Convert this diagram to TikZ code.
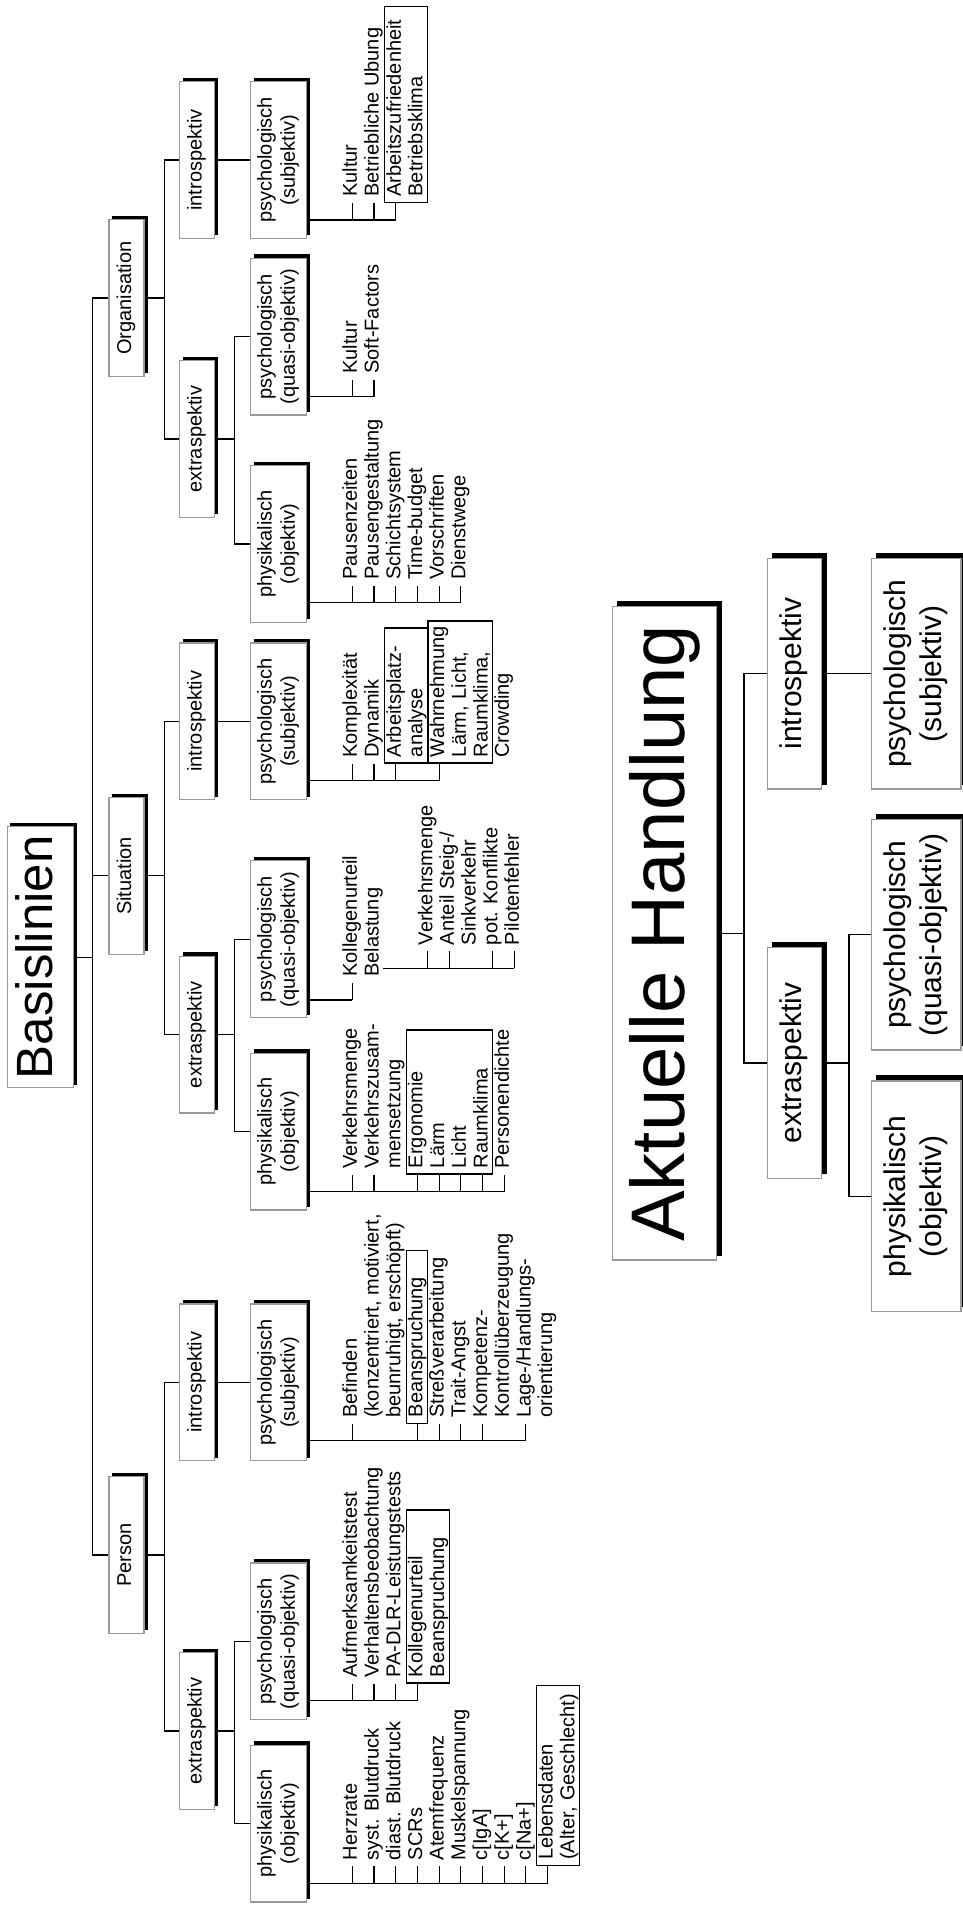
\documentclass[tikz,border=0pt]{standalone}
\usepackage{fontspec}
\setmainfont{Liberation Sans}
\usetikzlibrary{calc}
\pgfdeclarelayer{bg}
\pgfsetlayers{bg,main}
\newcommand\fs[2]{\fontsize{#1}{#2}\selectfont}
\newcommand\topst{\rule{0pt}{15.2pt}}
\newcommand\botst{\rule[-4.2pt]{0pt}{4.2pt}}
\tikzset{
 conn/.style={line width=1.1pt},
 bx/.style={rotate=90, draw=black!40, line width=1.1pt, fill=white, inner sep=0pt, align=center},
 lbox/.style={bx, font=\fs{20}{23.3}, minimum width=156.6pt, minimum height=35pt},
 lboxc/.style={bx, font=\fs{20}{23.3}, minimum width=156.6pt, minimum height=55.6pt},
 abox/.style={bx, line width=1.4pt, font=\fs{30}{36}, minimum width=230.7pt, minimum height=54.4pt},
 aboxc/.style={abox, minimum height=89.3pt},
 itemtext/.style={rotate=90, anchor=north west, inner xsep=6pt, inner ysep=1pt, align=left, font=\fs{20}{21.7}},
 itembox/.style={itemtext, draw, line width=1.3pt},
}
% #1 name, #2 tick x, #3 list line y, #4 style, #5 text
\newcommand\itm[5]{%
  \node[#4] (#1) at ({#2-11.8},{#3-17}) {\topst #5};
  \coordinate (#1t) at (#2,#3);
  \draw[conn] (#1t) -- (#1t |- #1.west);}
\newcommand\itn[4]{%
  \node[itemtext] (#1) at ({#2-11.8},{#3-17}) {\topst #4};}
\newcommand\shd[2]{%
  \begin{pgfonlayer}{bg}
  \fill[black] ([shift={(#2,-#2)}]#1.south west) rectangle ([shift={(#2,-#2)}]#1.north east);
  \end{pgfonlayer}}

\begin{document}
\begin{tikzpicture}[x=1pt,y=-1pt]
\useasboundingbox (0,0) rectangle (963,1910);
\begin{pgfonlayer}{bg}
\fill[white] (0,0) rectangle (963,1910);
\end{pgfonlayer}

% ---------------- Basislinien tree ----------------
\node[bx, font=\fs{51}{61}, minimum width=261pt, minimum height=66pt] (bl) at (40.3,957.2) {\strut Basislinien};

\node[lbox] (org) at (126.5,298) {\strut Organisation};
\node[lbox] (sit) at (126.5,875.9) {\strut Situation};
\node[lbox] (per) at (126.5,1555) {\strut Person};

\node[lbox, minimum height=34.7pt] (oi) at (197,160) {\strut introspektiv};
\node[lbox, minimum height=34.7pt] (oe) at (197,439) {\strut extraspektiv};
\node[lbox, minimum height=34.7pt] (si) at (197,721.3) {\strut introspektiv};
\node[lbox, minimum height=34.7pt] (se) at (197,1034.7) {\strut extraspektiv};
\node[lbox, minimum height=34.7pt] (pi) at (197,1382.3) {\strut introspektiv};
\node[lbox, minimum height=34.7pt] (pe) at (197,1731) {\strut extraspektiv};

\node[lboxc] (os) at (278.5,160) {\strut psychologisch\\\strut (subjektiv)};
\node[lboxc] (oq) at (278.5,336.7) {\strut psychologisch\\\strut (quasi-objektiv)};
\node[lboxc] (op) at (278.5,544) {\strut physikalisch\\\strut (objektiv)};
\node[lboxc] (ss) at (278.5,721.3) {\strut psychologisch\\\strut (subjektiv)};
\node[lboxc] (sq) at (278.5,939.2) {\strut psychologisch\\\strut (quasi-objektiv)};
\node[lboxc] (sp) at (278.5,1131.7) {\strut physikalisch\\\strut (objektiv)};
\node[lboxc] (ps) at (278.5,1382.3) {\strut psychologisch\\\strut (subjektiv)};
\node[lboxc] (pq) at (278.5,1641.3) {\strut psychologisch\\\strut (quasi-objektiv)};
\node[lboxc] (pp) at (278.5,1823.7) {\strut physikalisch\\\strut (objektiv)};

\foreach \n in {bl,org,sit,per,oi,oe,si,se,pi,pe,os,oq,op,ss,sq,sp,ps,pq,pp} {\shd{\n}{3.5}}

% tree connectors
\foreach \n in {org,sit,per} {\draw[conn] (bl.south) -- ++(19,0) |- (\n.north);}
\draw[conn] (org.south) -- ++(19.7,0) |- (oi.north);
\draw[conn] (org.south) -- ++(19.7,0) |- (oe.north);
\draw[conn] (sit.south) -- ++(19.7,0) |- (si.north);
\draw[conn] (sit.south) -- ++(19.7,0) |- (se.north);
\draw[conn] (per.south) -- ++(19.7,0) |- (pi.north);
\draw[conn] (per.south) -- ++(19.7,0) |- (pe.north);
\draw[conn] (oi.south) -- (os.north);
\draw[conn] (si.south) -- (ss.north);
\draw[conn] (pi.south) -- (ps.north);
\draw[conn] (oe.south) -- ++(19.7,0) |- (oq.north);
\draw[conn] (oe.south) -- ++(19.7,0) |- (op.north);
\draw[conn] (se.south) -- ++(19.7,0) |- (sq.north);
\draw[conn] (se.south) -- ++(19.7,0) |- (sp.north);
\draw[conn] (pe.south) -- ++(19.7,0) |- (pq.north);
\draw[conn] (pe.south) -- ++(19.7,0) |- (pp.north);

% ---------------- item lists ----------------
% Organisation / subjektiv
\itm{oa}{352.3}{220}{itemtext}{Kultur}
\itm{ob}{374.0}{220}{itemtext}{Betriebliche Ubung}
\itm{oc}{395.7}{220}{itembox, text width=184pt}{Arbeitszufriedenheit\\Betriebsklima\botst}
\draw[conn] (os.south |- oct) -- (oct);
% Organisation / quasi-objektiv
\itm{od}{352.3}{396.7}{itemtext}{Kultur}
\itm{oe1}{374.0}{396.7}{itemtext}{Soft-Factors}
\draw[conn] (oq.south |- oe1t) -- (oe1t);
% Organisation / objektiv
\itm{of}{352.3}{602.7}{itemtext}{Pausenzeiten}
\itm{og}{374.0}{602.7}{itemtext}{Pausengestaltung}
\itm{oh}{395.7}{602.7}{itemtext}{Schichtsystem}
\itm{oj}{417.4}{602.7}{itemtext}{Time-budget}
\itm{ok}{439.1}{602.7}{itemtext}{Vorschriften}
\itm{ol}{460.8}{602.7}{itemtext}{Dienstwege}
\draw[conn] (op.south |- olt) -- (olt);

% Situation / subjektiv
\itm{sa}{352.3}{780.7}{itemtext}{Komplexität}
\itm{sb}{374.0}{780.7}{itemtext}{Dynamik}
\itm{sc}{395.7}{780.7}{itembox, text width=123pt}{Arbeitsplatz-\\analyse\botst}
\itm{sd}{439.1}{780.7}{itembox, text width=130pt}{Wahrnehmung\\Lärm, Licht,\\Raumklima,\botst}
\itn{se1}{504.2}{780.7}{Crowding}
\draw[conn] (ss.south |- sdt) -- (sdt);
% Situation / quasi-objektiv
\itm{sf}{352.3}{1000}{itemtext}{Kollegenurteil}
\itn{sg}{374.0}{1000}{Belastung}
\draw[conn] (sq.south |- sft) -- (sft);
\coordinate (belsub) at (383.3,968.3);
\itm{sh}{427.7}{968.3}{itemtext}{Verkehrsmenge}
\itm{si1}{449.3}{968.3}{itemtext}{Anteil Steig-/\\Sinkverkehr}
\itm{sj}{492.7}{968.3}{itemtext}{pot. Konflikte}
\itm{sk}{514.3}{968.3}{itemtext}{Pilotenfehler}
\draw[conn] (belsub) -- (skt);
% Situation / objektiv
\itm{sl}{352.3}{1191.7}{itemtext}{Verkehrsmenge}
\itm{sm}{374.0}{1191.7}{itemtext}{Verkehrszusam-\\mensetzung}
\itm{sn}{417.4}{1191.7}{itembox, text width=132pt}{Ergonomie\\Lärm\\Licht\\Raumklima\botst}
\foreach \k/\x in {1/439.1,2/460.8,3/482.5} {
  \coordinate (snx\k) at (\x,1191.7);
  \draw[conn] (snx\k) -- (snx\k |- sn.west);}
\itm{so}{504.2}{1191.7}{itemtext}{Personendichte}
\draw[conn] (sp.south |- sot) -- (sot);

% Person / subjektiv
\itm{pa}{352.3}{1440.9}{itemtext}{Befinden\\(konzentriert, motiviert,\\beunruhigt, erschöpft)}
\itm{pb}{417.4}{1440.9}{itembox, text width=161pt}{Beanspruchung\botst}
\itm{pc}{439.1}{1440.9}{itemtext}{Streßverarbeitung}
\itm{pd}{460.8}{1440.9}{itemtext}{Trait-Angst}
\itm{pe1}{482.5}{1440.9}{itemtext}{Kompetenz-\\Kontrollüberzeugung}
\itm{pf}{525.9}{1440.9}{itemtext}{Lage-/Handlungs-\\orientierung}
\draw[conn] (ps.south |- pft) -- (pft);
% Person / quasi-objektiv
\itm{pg}{352.3}{1700.7}{itemtext}{Aufmerksamkeitstest}
\itm{ph}{374.0}{1700.7}{itemtext}{Verhaltensbeobachtung}
\itm{pj}{395.7}{1700.7}{itemtext}{PA-DLR-Leistungstests}
\itm{pk}{417.4}{1700.7}{itembox, text width=161pt}{Kollegenurteil\\Beanspruchung\botst}
\draw[conn] (pq.south |- pkt) -- (pkt);
% Person / objektiv
\itm{pl}{352.3}{1883.3}{itemtext}{Herzrate}
\itm{pm}{374.0}{1883.3}{itemtext}{syst. Blutdruck}
\itm{pn}{395.7}{1883.3}{itemtext}{diast. Blutdruck}
\itm{po}{417.4}{1883.3}{itemtext}{SCRs}
\itm{pr}{439.1}{1883.3}{itemtext}{Atemfrequenz}
\itm{ps1}{460.8}{1883.3}{itemtext}{Muskelspannung}
\itm{pt}{482.5}{1883.3}{itemtext}{c[IgA]}
\itm{pu}{504.2}{1883.3}{itemtext}{c[K+]}
\itm{pv}{525.9}{1883.3}{itemtext}{c[Na+]}
\itm{pw}{547.6}{1883.3}{itembox, text width=168pt}{Lebensdaten\\(Alter, Geschlecht)\botst}
\draw[conn] (pp.south |- pwt) -- (pwt);

% ---------------- Aktuelle Handlung tree ----------------
\node[bx, line width=1.4pt, font=\fs{76}{91}, minimum width=653.3pt, minimum height=104.4pt] (ah) at (664.5,933.3) {Aktuelle Handlung};
\node[abox] (ai) at (794.5,673.7) {\strut introspektiv};
\node[abox] (ae) at (794.5,1063) {\strut extraspektiv};
\node[aboxc] (asu) at (916.3,673.7) {\strut psychologisch\\\strut (subjektiv)};
\node[aboxc] (aqu) at (916.3,934.7) {\strut psychologisch\\\strut (quasi-objektiv)};
\node[aboxc] (aph) at (916.3,1196.2) {\strut physikalisch\\\strut (objektiv)};
\foreach \n in {ah,ai,ae,asu,aqu,aph} {\shd{\n}{5}}

\draw[conn] (ah.south) -- ++(26.6,0) |- (ai.north);
\draw[conn] (ah.south) -- ++(26.6,0) |- (ae.north);
\draw[conn] (ai.south) -- (asu.north);
\draw[conn] (ae.south) -- ++(26.6,0) |- (aqu.north);
\draw[conn] (ae.south) -- ++(26.6,0) |- (aph.north);
\end{tikzpicture}
\end{document}
